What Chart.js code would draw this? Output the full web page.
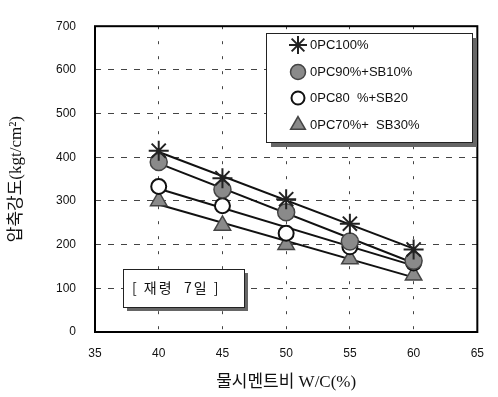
<!DOCTYPE html>
<html><head><meta charset="utf-8">
<script src="https://cdn.jsdelivr.net/npm/chart.js@4/dist/chart.umd.min.js"></script>
<style>html,body{margin:0;padding:0;background:#fff;}canvas{display:block;}</style>
</head><body>
<canvas id="c" width="498" height="397"></canvas>
<script>
const wc = [40, 45, 50, 55, 60];
const opc100 = [415, 352, 304, 248, 189];
const opc90 = [389, 326, 274, 207, 163];
const opc80 = [333, 289, 226, 195, 158];
const opc70 = [300, 244, 200, 167, 130];
const trendX = [40, 60];
const trend100 = [412, 191];
const trend90 = [386, 158];
const trend80 = [328, 152];
const trend70 = [292, 125];
const seriesNames = ['0PC100%', '0PC90%+SB10%', '0PC80  %+SB20', '0PC70%+  SB30%'];
const yTicks = [0, 100, 200, 300, 400, 500, 600, 700];
const xTicks = [35, 40, 45, 50, 55, 60, 65];
const noteText = '[ 재령  7일 ]';

const pts = (xs, ys) => xs.map((x, i) => ({x: x, y: ys[i]}));
const styles = [
  {pointStyle: 'star', radius: 10, bg: '#333', border: '#222', bw: 2},
  {pointStyle: 'circle', radius: 8.5, bg: '#8a8a8a', border: '#444', bw: 1.5},
  {pointStyle: 'circle', radius: 7.5, bg: '#fff', border: '#111', bw: 2},
  {pointStyle: 'triangle', radius: 9.5, bg: '#8a8a8a', border: '#444', bw: 1.5}
];
const seriesVals = [opc100, opc90, opc80, opc70];
const trendVals = [trend100, trend90, trend80, trend70];

const datasets = [];
trendVals.forEach((t, i) => datasets.push({
  label: 'trend ' + seriesNames[i], data: pts(trendX, t), showLine: true,
  borderColor: '#111', borderWidth: 2, pointRadius: 0, order: 2
}));
seriesVals.forEach((v, i) => datasets.push({
  label: seriesNames[i], data: pts(wc, v), showLine: false,
  pointStyle: styles[i].pointStyle, pointRadius: styles[i].radius,
  backgroundColor: styles[i].bg, borderColor: styles[i].border,
  pointBorderWidth: styles[i].bw, order: 1
}));

const boxPlugin = {
  id: 'boxes',
  afterDraw(chart) {
    const ctx = chart.ctx, a = chart.chartArea;
    ctx.save();
    ctx.strokeStyle = '#000'; ctx.lineWidth = 2;
    ctx.strokeRect(a.left, a.top, a.right - a.left, a.bottom - a.top);
    // legend box
    const lx = 266, ly = 33, lw = 206, lh = 109;
    ctx.fillStyle = '#666'; ctx.fillRect(lx + 5, ly + 5, lw, lh);
    ctx.fillStyle = '#fff'; ctx.fillRect(lx, ly, lw, lh);
    ctx.strokeStyle = '#222'; ctx.lineWidth = 1; ctx.strokeRect(lx + 0.5, ly + 0.5, lw, lh);
    const rows = [45, 72, 98, 125];
    ctx.font = '13px "Liberation Sans Narrow", "Liberation Sans", sans-serif';
    ctx.textBaseline = 'middle'; ctx.textAlign = 'left';
    seriesNames.forEach((n, i) => {
      const s = styles[i];
      ctx.fillStyle = s.bg; ctx.strokeStyle = s.border; ctx.lineWidth = s.bw;
      Chart.helpers.drawPoint(ctx, {pointStyle: s.pointStyle, radius: s.radius - 1, borderWidth: s.bw}, 298, rows[i]);
      ctx.fillStyle = '#111';
      ctx.fillText(n, 310, rows[i]);
    });
    // note box
    const nx = 123, ny = 269, nw = 121, nh = 38;
    ctx.fillStyle = '#666'; ctx.fillRect(nx + 4, ny + 4, nw, nh);
    ctx.fillStyle = '#fff'; ctx.fillRect(nx, ny, nw, nh);
    ctx.strokeStyle = '#222'; ctx.lineWidth = 1; ctx.strokeRect(nx + 0.5, ny + 0.5, nw, nh);
    ctx.fillStyle = '#111';
    ctx.font = '14px "Noto Sans CJK KR", sans-serif';
    ctx.letterSpacing = '2px';
    ctx.fillText(noteText, nx + 9, ny + nh / 2);
    ctx.restore();
  }
};

new Chart(document.getElementById('c'), {
  type: 'scatter',
  data: {datasets: datasets},
  options: {
    responsive: false, animation: false,
    layout: {padding: {top: 17, right: 13, left: 0, bottom: 0}},
    plugins: {legend: {display: false}, tooltip: {enabled: false}},
    scales: {
      x: {
        type: 'linear', min: 35, max: 65,
        afterBuildTicks: s => { s.ticks = xTicks.map(v => ({value: v})); },
        afterFit: s => { s.height = 65; },
        grid: {color: c => (c.tick.value === 35 || c.tick.value === 65) ? 'rgba(0,0,0,0)' : '#444',
               lineWidth: 1, drawTicks: false},
        border: {display: false, dash: [3, 12]},
        ticks: {color: '#111', font: {family: '"Liberation Sans", Arial, sans-serif', size: 12}, padding: 14},
        title: {display: true, text: '물시멘트비 W/C(%)', color: '#111',
                font: {family: '"Liberation Serif", "Noto Sans CJK KR", serif', size: 17}, padding: {top: 5}}
      },
      y: {
        type: 'linear', min: 0, max: 700,
        afterBuildTicks: s => { s.ticks = yTicks.map(v => ({value: v})); },
        afterFit: s => { s.width = 95; },
        grid: {color: c => (c.tick.value === 0 || c.tick.value === 700) ? 'rgba(0,0,0,0)' : '#444',
               lineWidth: 1, drawTicks: false},
        border: {display: false, dash: [6, 7]},
        ticks: {color: '#111', font: {family: '"Liberation Sans", Arial, sans-serif', size: 12}, padding: 19},
        title: {display: true, text: '압축강도(kgt/cm²)', color: '#111',
                font: {family: '"Liberation Serif", "Noto Sans CJK KR", serif', size: 17}, padding: {bottom: 0, top: 6}}
      }
    }
  },
  plugins: [boxPlugin]
});
</script>
</body></html>
